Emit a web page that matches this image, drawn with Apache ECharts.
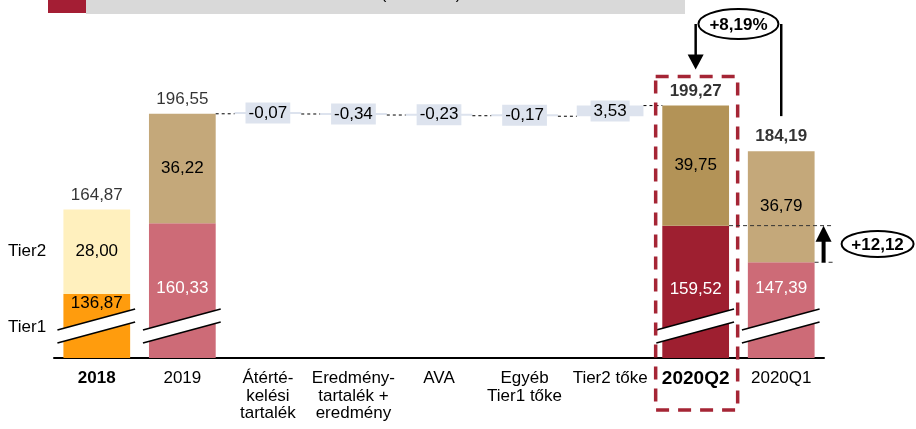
<!DOCTYPE html>
<html>
<head>
<meta charset="utf-8">
<script src="https://cdn.jsdelivr.net/npm/echarts@6/dist/echarts.min.js"></script>
<style>
  html, body { margin: 0; padding: 0; background: #fff; }
  #chart { width: 916px; height: 429px; }
</style>
</head>
<body>
<div id="chart"></div>
<script>
// data
const categories = ['2018', '2019', 'Átérté-\nkelési\ntartalék', 'Eredmény-\ntartalék +\neredmény', 'AVA', 'Egyéb\nTier1 tőke', 'Tier2 tőke', '2020Q2', '2020Q1']
const tier1 = [136.87, 160.33, null, null, null, null, null, 159.52, 147.39]
const tier2 = [28.00, 36.22, null, null, null, null, null, 39.75, 36.79]
const totals = [164.87, 196.55, null, null, null, null, null, 199.27, 184.19]
const changes = [null, null, -0.07, -0.34, -0.23, -0.17, 3.53, null, null]
const growthLabel = '+8,19%'
const tier2IncreaseLabel = '+12,12'
const titleText = '(milliárd Ft)'

// styles
const FONT = "'Liberation Sans', Arial, sans-serif"
const FS = 17
const tier1Colors = ['#ff9c0d', '#cd6b77', null, null, null, null, null, '#9e1f30', '#cd6b77']
const tier2Colors = ['#fff0be', '#c4a87a', null, null, null, null, null, '#b39357', '#c4a87a']
const tier1LabelColors = ['#000', '#fff', null, null, null, null, null, '#fff', '#fff']
const tier1LabelDist = [1, 57, 0, 0, 0, 0, 0, 55, 18]
const floatColor = '#dde3ee'
const Q2 = 7
const Q1 = 8

const fmt = (v) => v.toFixed(2).replace('.', ',')

// waterfall helper
const helper = []
const delta = []
const levels = [] // [start, end] of each floating step
let running = totals[1]
changes.forEach((c) => {
  if (c == null) {
    helper.push('-')
    delta.push('-')
    levels.push(null)
    return
  }
  const end = running + c
  helper.push(Math.min(running, end))
  delta.push(Math.abs(c))
  levels.push([running, end])
  running = end
})

const chart = echarts.init(document.getElementById('chart'))

const option = {
  animation: false,
  backgroundColor: '#fff',
  textStyle: { fontFamily: FONT },
  grid: { left: 54, right: 92, top: 20, bottom: 71 },
  xAxis: {
    type: 'category',
    data: categories,
    axisLine: { lineStyle: { color: '#000', width: 2 } },
    axisTick: { show: false },
    axisLabel: {
      interval: 0,
      margin: 12,
      color: '#000',
      fontFamily: FONT,
      fontSize: FS,
      lineHeight: 17.5,
      formatter: (v, i) => (i === 0 ? `{b|${v}}` : i === Q2 ? `{q|${v}}` : v),
      rich: {
        b: { fontWeight: 'bold', fontSize: FS, fontFamily: FONT, color: '#000' },
        q: { fontWeight: 'bold', fontSize: 19, fontFamily: FONT, color: '#000' }
      }
    }
  },
  yAxis: {
    type: 'value',
    min: 115.7,
    max: 227.6,
    show: false,
    splitLine: { show: false }
  },
  series: [
    {
      name: 'Tier1',
      type: 'bar',
      stack: 'cap',
      barWidth: '78%',
      data: tier1.map((v, i) => v == null ? '-' : {
        value: v,
        itemStyle: { color: tier1Colors[i] },
        label: {
          show: true,
          position: 'insideTop',
          distance: tier1LabelDist[i],
          color: tier1LabelColors[i],
          fontSize: FS,
          fontFamily: FONT,
          formatter: () => fmt(v)
        }
      })
    },
    {
      name: 'Tier2',
      type: 'bar',
      stack: 'cap',
      data: tier2.map((v, i) => v == null ? '-' : {
        value: v,
        itemStyle: { color: tier2Colors[i] }
      }),
      label: {
        show: true,
        position: 'inside',
        color: '#000',
        fontSize: FS,
        fontFamily: FONT,
        formatter: (p) => fmt(p.value)
      }
    },
    {
      name: 'helper',
      type: 'bar',
      stack: 'cap',
      silent: true,
      itemStyle: { color: 'transparent' },
      data: helper
    },
    {
      name: 'change',
      type: 'bar',
      stack: 'cap',
      barMinHeight: 2,
      itemStyle: { color: floatColor },
      data: delta,
      label: {
        show: true,
        position: 'inside',
        color: '#000',
        fontSize: FS,
        fontFamily: FONT,
        backgroundColor: floatColor,
        padding: [3, 3, 1, 3],
        formatter: (p) => fmt(changes[p.dataIndex])
      }
    },
    {
      name: 'total',
      type: 'scatter',
      symbolSize: 0,
      data: totals.map((v, i) => v == null ? '-' : {
        value: [i, v],
        label: { fontWeight: i >= Q2 ? 'bold' : 'normal' }
      }),
      label: {
        show: true,
        position: 'top',
        distance: 6,
        color: '#000',
        fontSize: FS,
        fontFamily: FONT,
        formatter: (p) => fmt(p.value[1])
      }
    }
  ]
}

chart.setOption(option)

// decorations computed from the scales
function px(i, v) { return chart.convertToPixel({ gridIndex: 0 }, [i, v]) }
const catW = px(1, 150)[0] - px(0, 150)[0]
const half = catW * 0.39
const baseY = px(0, 115.7)[1]
const g = []

// header strip (title mostly cut off at the top edge)
g.push({ type: 'rect', z: 100, shape: { x: 48, y: 0, width: 38, height: 13 }, style: { fill: '#a41e34' } })
g.push({ type: 'rect', z: 100, shape: { x: 86, y: 0, width: 599, height: 14 }, style: { fill: '#d9d9d9' } })
g.push({ type: 'text', z: 101, style: { text: titleText, x: 421, y: 3, align: 'center', verticalAlign: 'bottom', font: `16px ${FONT}`, fill: '#000' } })

// dashed connectors
const conn = [[1, 2, totals[1]]]
for (let i = 2; i <= 6; i++) conn.push([i, i + 1, levels[i][1]])
conn.forEach(([a, b, v]) => {
  const y = px(a, v)[1]
  g.push({ type: 'line', z: 100, shape: { x1: px(a, v)[0] + half, y1: y, x2: px(b, v)[0] - half, y2: y }, style: { stroke: '#000', lineWidth: 1, lineDash: [3, 3] } })
})

// axis break marks
const breakValue = 126.3
;[0, 1, Q2, Q1].forEach((i) => {
  const [cx, yc] = px(i, breakValue)
  const x1 = cx - half - 6, x2 = cx + half + 5
  const yl = yc + 10.5, yr = yc - 10.5, gap = 6.5
  g.push({ type: 'polygon', z: 100, shape: { points: [[x1, yl - gap], [x2, yr - gap], [x2, yr + gap], [x1, yl + gap]] }, style: { fill: '#fff' } })
  g.push({ type: 'line', z: 101, shape: { x1, y1: yl - gap, x2, y2: yr - gap }, style: { stroke: '#000', lineWidth: 1.5 } })
  g.push({ type: 'line', z: 101, shape: { x1, y1: yl + gap, x2, y2: yr + gap }, style: { stroke: '#000', lineWidth: 1.5 } })
})

// Tier labels on the left
g.push({ type: 'text', z: 100, style: { text: 'Tier2', x: 8, y: px(0, tier1[0] + tier2[0] / 2)[1], verticalAlign: 'middle', font: `${FS}px ${FONT}`, fill: '#000' } })
g.push({ type: 'text', z: 100, style: { text: 'Tier1', x: 8, y: px(0, breakValue)[1] + 1, verticalAlign: 'middle', font: `${FS}px ${FONT}`, fill: '#000' } })

// dashed frame around 2020Q2
const q2x = px(Q2, 150)[0]
const q2Top = px(Q2, totals[Q2])[1]
g.push({ type: 'rect', z: 102, shape: { x: q2x - 40, y: q2Top - 29, width: 82, height: baseY + 52 - (q2Top - 29) }, style: { fill: 'none', stroke: '#a52535', lineWidth: 3.5, lineDash: [13, 9] } })

// +8,19% callout
const q1x = px(Q1, 150)[0]
const q1Top = px(Q1, totals[Q1])[1]
const cy = 24
g.push({ type: 'line', z: 100, shape: { x1: q2x, y1: cy, x2: q2x, y2: q2Top - 50 }, style: { stroke: '#000', lineWidth: 2.5 } })
g.push({ type: 'polygon', z: 100, shape: { points: [[q2x - 8, q2Top - 51], [q2x + 8, q2Top - 51], [q2x, q2Top - 36]] }, style: { fill: '#000' } })
g.push({ type: 'line', z: 100, shape: { x1: q1x, y1: cy, x2: q1x, y2: q1Top - 35 }, style: { stroke: '#000', lineWidth: 2.5 } })
g.push({ type: 'ellipse', z: 101, shape: { cx: (q2x + q1x) / 2, cy, rx: 40, ry: 15 }, style: { fill: '#fff', stroke: '#000', lineWidth: 2 } })
g.push({ type: 'text', z: 102, style: { text: growthLabel, x: (q2x + q1x) / 2, y: cy + 1, align: 'center', verticalAlign: 'middle', font: `bold 17px ${FONT}`, fill: '#000' } })

// +12,12 callout
const yHi = px(Q1, tier1[Q2])[1]
const yLo = px(Q1, tier1[Q1])[1]
const ax = q1x + half + 9
g.push({ type: 'line', z: 103, shape: { x1: q2x + half, y1: yHi, x2: ax + 10, y2: yHi }, style: { stroke: '#333', lineWidth: 1, lineDash: [4, 3] } })
g.push({ type: 'line', z: 103, shape: { x1: q1x + half, y1: yLo, x2: ax + 10, y2: yLo }, style: { stroke: '#333', lineWidth: 1, lineDash: [4, 3] } })
g.push({ type: 'rect', z: 103, shape: { x: ax - 2, y: yHi + 15, width: 4, height: yLo - yHi - 15 }, style: { fill: '#000' } })
g.push({ type: 'polygon', z: 103, shape: { points: [[ax, yHi], [ax - 8, yHi + 16], [ax + 8, yHi + 16]] }, style: { fill: '#000' } })
const ex = q1x + half + 63
g.push({ type: 'ellipse', z: 101, shape: { cx: ex, cy: (yHi + yLo) / 2, rx: 36, ry: 13 }, style: { fill: '#fff', stroke: '#000', lineWidth: 2 } })
g.push({ type: 'text', z: 102, style: { text: tier2IncreaseLabel, x: ex, y: (yHi + yLo) / 2 + 1, align: 'center', verticalAlign: 'middle', font: `bold 17px ${FONT}`, fill: '#000' } })

chart.setOption({ graphic: { elements: g } })
</script>
</body>
</html>
